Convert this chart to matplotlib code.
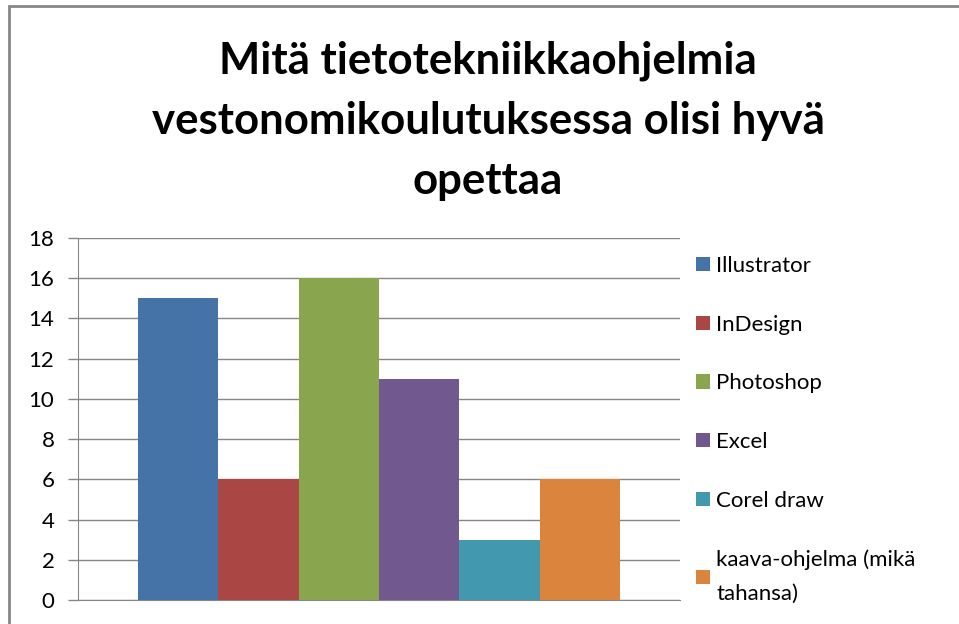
"""Excel-tyylinen pylväskaavio: tietotekniikkaohjelmat vestonomikoulutuksessa"""
import matplotlib
matplotlib.use('Agg')
import matplotlib.pyplot as plt
from matplotlib.patches import Rectangle

plt.rcParams['font.family'] = ['Lato', 'DejaVu Sans']

# data
series = ['Illustrator', 'InDesign', 'Photoshop', 'Excel', 'Corel draw',
          'kaava-ohjelma (mikä\ntahansa)']
values = [15, 6, 16, 11, 3, 6]
colors = ['#4572A7', '#AA4643', '#89A54E', '#71588F', '#4198AF', '#DB843D']
y_ticks = [0, 2, 4, 6, 8, 10, 12, 14, 16, 18]
title = 'Mitä tietotekniikkaohjelmia\nvestonomikoulutuksessa olisi hyvä\nopettaa'

W, H = 959, 624
fig = plt.figure(figsize=(W / 100, H / 100), dpi=100)
fig.patch.set_facecolor('white')

# kaavion kehys (vain vasen ja ylä näkyvät kuvassa)
fig.patches.append(Rectangle((9 / W, -0.1), 1.2, 1 - 6 / H + 0.1, transform=fig.transFigure,
                             facecolor='none', edgecolor='#868686', linewidth=2))

ax = fig.add_axes([78 / W, 1 - 600 / H, (680 - 78) / W, (600 - 238) / H])

group = 0.8
w = group / len(series)
for i, (name, v, c) in enumerate(zip(series, values, colors)):
    x = -group / 2 + w * (i + 0.5)
    ax.bar(x, v, width=w, color=c, label=name, edgecolor='none', zorder=3)

ax.set_xlim(-0.5, 0.5)
ax.set_ylim(0, 18)
ax.set_yticks(y_ticks)
ax.set_xticks([])
ax.grid(axis='y', color='#868686', linewidth=1, zorder=0)
ax.set_axisbelow(True)
for s in ('top', 'right'):
    ax.spines[s].set_visible(False)
ax.spines['left'].set_color('#868686')
ax.spines['bottom'].set_color('#868686')
ax.tick_params(axis='y', length=7, width=1, color='#868686', pad=10,
               labelsize=16, labelcolor='#000000')

fig.text(488 / W, 1 - 121 / H, title, ha='center', va='center', fontsize=31.5,
         fontweight='bold', linespacing=1.6)

leg = fig.legend(loc='upper left', bbox_to_anchor=(687 / W, 1 - 247 / H), frameon=False,
                 fontsize=16, handlelength=0.62, handleheight=0.62, handletextpad=0.3,
                 labelspacing=1.74, borderaxespad=0)
leg.get_texts()[-1].set_linespacing(1.9)

fig.savefig('out.png', dpi=100, facecolor='white')
